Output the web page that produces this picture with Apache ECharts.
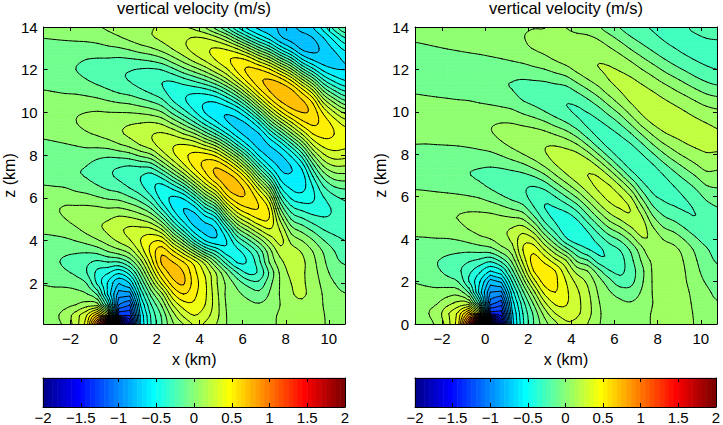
<!DOCTYPE html>
<html><head><meta charset="utf-8">
<script src="https://cdn.jsdelivr.net/npm/echarts@6/dist/echarts.min.js"></script>
<style>html,body{margin:0;padding:0;background:#fff}#c{width:723px;height:425px}</style>
</head><body><div id="c"></div>
<script>
// grid node positions (km)
const xs = [-3.25,-2.75,-2.25,-1.75,-1.25,-0.75,-0.25,0.25,0.75,1.25,1.75,2.25,2.75,3.25,3.75,4.25,4.75,5.25,5.75,6.25,6.75,7.25,7.75,8.25,8.75,9.25,9.75,10.25,10.75];
const zs = [0,0.5,1,1.5,2,2.5,3,3.5,4,4.5,5,5.5,6,6.5,7,7.5,8,8.5,9,9.5,10,10.5,11,11.5,12,12.5,13,13.5,14];
// vertical velocity (m/s), one column per x node, values from z=0 to z=14
const wLeft = [
[0.05,0.06,0.04,0.02,-0.005,-0.05,-0.07,-0.06,-0.03,0.02,0.06,0.07,0.05,0.01,-0.04,-0.06,-0.05,-0.02,0.02,0.05,0.06,0.04,0.004,-0.035,-0.06,-0.06,-0.03,0.002,0.03],
[0.07,0.08,0.05,0.025,-0.015,-0.067,-0.09,-0.075,-0.028,0.031,0.076,0.09,0.061,0.005,-0.048,-0.07,-0.055,-0.014,0.032,0.064,0.067,0.041,-0.003,-0.045,-0.069,-0.064,-0.034,0.007,0.043],
[0.12,0.14,0.07,0.03,-0.02,-0.087,-0.11,-0.083,-0.02,0.05,0.098,0.108,0.066,-0.002,-0.062,-0.08,-0.054,-0.005,0.047,0.077,0.074,0.039,-0.012,-0.061,-0.084,-0.075,-0.037,0.013,0.055],
[0.25,0.25,0.1,0.03,-0.04,-0.12,-0.135,-0.086,0.003,0.081,0.127,0.115,0.051,-0.03,-0.088,-0.09,-0.052,0.008,0.067,0.098,0.09,0.044,-0.018,-0.074,-0.1,-0.085,-0.038,0.018,0.064],
[0.45,0.4,0.15,0.005,-0.1,-0.197,-0.176,-0.085,0.036,0.128,0.16,0.122,0.038,-0.05,-0.105,-0.1,-0.05,0.023,0.09,0.12,0.1,0.041,-0.034,-0.096,-0.12,-0.099,-0.042,0.025,0.075],
[1.2,0.7,0.15,-0.12,-0.32,-0.326,-0.22,-0.064,0.087,0.177,0.182,0.119,0.013,-0.085,-0.143,-0.138,-0.069,0.03,0.112,0.14,0.107,0.031,-0.056,-0.123,-0.14,-0.105,-0.037,0.04,0.093],
[2.6,0.4,-0.3,-0.53,-0.516,-0.388,-0.2,0.005,0.15,0.218,0.194,0.105,-0.014,-0.124,-0.184,-0.173,-0.078,0.048,0.143,0.155,0.102,0.01,-0.086,-0.15,-0.155,-0.107,-0.02,0.064,0.114],
[-2.6,-1.3,-1.0,-0.85,-0.7,-0.48,-0.2,0.06,0.22,0.28,0.23,0.11,-0.03,-0.15,-0.215,-0.19,-0.064,0.092,0.184,0.173,0.1,-0.01,-0.118,-0.18,-0.181,-0.114,-0.008,0.09,0.139],
[-1.6,-1.3,-1.1,-0.85,-0.6,-0.35,-0.08,0.14,0.29,0.32,0.224,0.076,-0.083,-0.207,-0.26,-0.2,-0.039,0.138,0.22,0.19,0.097,-0.025,-0.141,-0.204,-0.194,-0.106,0.019,0.125,0.16],
[-0.6,-0.58,-0.5,-0.38,-0.22,-0.04,0.15,0.33,0.4,0.334,0.19,0.015,-0.156,-0.27,-0.297,-0.185,0.024,0.207,0.258,0.2,0.085,-0.06,-0.18,-0.238,-0.208,-0.091,0.058,0.162,0.178],
[-0.3,-0.28,-0.2,-0.06,0.12,0.3,0.45,0.53,0.477,0.33,0.12,-0.098,-0.275,-0.37,-0.347,-0.16,0.082,0.266,0.293,0.209,0.06,-0.1,-0.224,-0.27,-0.214,-0.068,0.092,0.19,0.195],
[-0.1,-0.08,0.02,0.18,0.42,0.6,0.72,0.665,0.484,0.213,-0.07,-0.31,-0.44,-0.437,-0.266,-0.005,0.237,0.35,0.311,0.181,0.006,-0.163,-0.277,-0.294,-0.196,-0.022,0.144,0.22,0.21],
[0.08,0.15,0.3,0.48,0.65,0.74,0.701,0.52,0.232,-0.076,-0.343,-0.504,-0.515,-0.36,-0.093,0.186,0.372,0.39,0.28,0.085,-0.125,-0.29,-0.35,-0.29,-0.128,0.064,0.208,0.25,0.23],
[0.18,0.32,0.45,0.6,0.71,0.7,0.6,0.33,-0.01,-0.33,-0.54,-0.6,-0.482,-0.215,0.111,0.368,0.47,0.401,0.2,-0.033,-0.25,-0.378,-0.368,-0.24,-0.036,0.154,0.274,0.28,0.207],
[0.3,0.4,0.48,0.52,0.55,0.53,0.45,0.1,-0.3,-0.55,-0.64,-0.547,-0.295,0.038,0.348,0.526,0.529,0.37,0.11,-0.175,-0.38,-0.45,-0.371,-0.181,0.048,0.245,0.337,0.305,0.172],
[0.28,0.34,0.4,0.42,0.42,0.38,0.25,-0.15,-0.5,-0.63,-0.56,-0.334,-0.019,0.302,0.542,0.63,0.538,0.274,-0.043,-0.336,-0.504,-0.494,-0.349,-0.106,0.142,0.326,0.38,0.292,0.094],
[0.2,0.24,0.25,0.24,0.22,0.2,-0.01,-0.3,-0.57,-0.6,-0.45,-0.15,0.2,0.5,0.7,0.684,0.475,0.152,-0.209,-0.467,-0.57,-0.493,-0.28,0.005,0.26,0.41,0.406,0.228,-0.044],
[0.1,0.1,0.09,0.08,0.08,-0.01,-0.25,-0.45,-0.5,-0.37,-0.075,0.242,0.534,0.712,0.74,0.59,0.288,-0.066,-0.392,-0.583,-0.588,-0.41,-0.142,0.16,0.38,0.48,0.378,0.108,-0.2],
[0.06,0.05,0.04,0.02,-0.04,-0.2,-0.41,-0.426,-0.287,-0.051,0.228,0.49,0.676,0.74,0.647,0.384,0.041,-0.315,-0.555,-0.63,-0.524,-0.264,0.054,0.355,0.526,0.518,0.286,-0.077,-0.396],
[0.045,0.035,0.02,-0.03,-0.14,-0.32,-0.386,-0.322,-0.13,0.122,0.384,0.588,0.677,0.623,0.408,0.086,-0.244,-0.515,-0.637,-0.58,-0.35,-0.029,0.305,0.544,0.62,0.468,0.126,-0.264,-0.539],
[0.05,0.037,0.01,-0.07,-0.17,-0.28,-0.232,-0.161,0.038,0.284,0.496,0.597,0.548,0.35,0.056,-0.256,-0.513,-0.643,-0.605,-0.397,-0.078,0.268,0.547,0.677,0.606,0.321,-0.065,-0.424,-0.631],
[0.078,0.07,0.039,0.01,-0.03,-0.08,0.01,0.06,0.215,0.385,0.49,0.473,0.308,0.042,-0.257,-0.5,-0.623,-0.589,-0.399,-0.1,0.227,0.526,0.7,0.712,0.518,0.166,-0.229,-0.546,-0.68],
[0.114,0.116,0.102,0.11,0.11,0.12,0.17,0.25,0.33,0.289,0.172,-0.001,-0.198,-0.39,-0.539,-0.62,-0.61,-0.455,-0.175,0.154,0.469,0.693,0.77,0.657,0.345,-0.057,-0.437,-0.683,-0.71],
[0.146,0.155,0.165,0.19,0.2,0.223,0.25,0.242,0.17,0.054,-0.101,-0.256,-0.411,-0.518,-0.586,-0.597,-0.479,-0.237,0.071,0.373,0.633,0.757,0.731,0.498,0.136,-0.257,-0.589,-0.737,-0.72],
[0.16,0.17,0.185,0.21,0.21,0.214,0.221,0.19,0.1,-0.03,-0.18,-0.327,-0.454,-0.531,-0.55,-0.458,-0.256,0.013,0.308,0.551,0.7,0.721,0.56,0.245,-0.148,-0.5,-0.72,-0.74,-0.66],
[0.146,0.151,0.154,0.17,0.16,0.144,0.131,0.099,0.01,-0.117,-0.249,-0.357,-0.416,-0.403,-0.305,-0.143,0.075,0.305,0.499,0.621,0.67,0.582,0.334,-0.009,-0.359,-0.618,-0.73,-0.7,-0.6],
[0.107,0.105,0.097,0.09,0.07,0.045,0.02,-0.01,-0.094,-0.197,-0.286,-0.33,-0.307,-0.214,-0.072,0.106,0.28,0.435,0.533,0.56,0.478,0.275,0.002,-0.283,-0.525,-0.663,-0.67,-0.6,-0.45],
[0.066,0.059,0.042,0.026,0.003,-0.037,-0.074,-0.098,-0.16,-0.232,-0.28,-0.285,-0.227,-0.108,0.042,0.2,0.35,0.453,0.5,0.461,0.306,0.078,-0.184,-0.423,-0.59,-0.64,-0.58,-0.45,-0.25],
[0.05,0.04,0.02,0.003,-0.03,-0.07,-0.11,-0.15,-0.2,-0.24,-0.25,-0.24,-0.18,-0.08,0.06,0.2,0.34,0.43,0.45,0.36,0.18,-0.07,-0.3,-0.5,-0.6,-0.58,-0.47,-0.3,-0.102]
];
const wRight = [
[0.05,0.06,0.05,0.02,-0.005,-0.06,-0.07,-0.049,-0.01,0.033,0.057,0.055,0.026,-0.012,-0.043,-0.049,-0.031,0.002,0.032,0.049,0.045,0.022,-0.01,-0.038,-0.05,-0.042,-0.017,0.013,0.035],
[0.07,0.09,0.074,0.026,-0.02,-0.076,-0.083,-0.057,-0.009,0.041,0.068,0.063,0.027,-0.019,-0.054,-0.058,-0.036,0.001,0.036,0.055,0.048,0.02,-0.017,-0.045,-0.055,-0.041,-0.012,0.021,0.043],
[0.12,0.14,0.09,0.03,-0.04,-0.088,-0.096,-0.06,-0.005,0.051,0.079,0.069,0.025,-0.029,-0.066,-0.066,-0.039,0.004,0.042,0.06,0.049,0.016,-0.024,-0.054,-0.059,-0.04,-0.005,0.03,0.049],
[0.25,0.28,0.16,0.05,-0.06,-0.125,-0.119,-0.07,-0.004,0.059,0.089,0.075,0.022,-0.039,-0.077,-0.074,-0.041,0.007,0.049,0.065,0.05,0.012,-0.031,-0.061,-0.062,-0.037,0.003,0.037,0.055],
[0.45,0.42,0.22,0.05,-0.102,-0.179,-0.146,-0.075,0.008,0.073,0.102,0.077,0.016,-0.05,-0.088,-0.081,-0.04,0.011,0.054,0.07,0.05,0.007,-0.04,-0.067,-0.064,-0.033,0.011,0.047,0.06],
[1.2,0.75,0.2,-0.12,-0.3,-0.269,-0.185,-0.073,0.033,0.105,0.118,0.078,0.006,-0.065,-0.098,-0.087,-0.039,0.021,0.067,0.079,0.051,0.003,-0.049,-0.074,-0.065,-0.027,0.02,0.057,0.064],
[2.6,0.4,-0.3,-0.55,-0.495,-0.377,-0.219,-0.06,0.071,0.133,0.128,0.07,-0.011,-0.083,-0.11,-0.088,-0.03,0.036,0.082,0.086,0.049,-0.01,-0.063,-0.085,-0.067,-0.022,0.03,0.065,0.068],
[-2.6,-1.35,-1.05,-0.9,-0.75,-0.5,-0.27,-0.04,0.098,0.16,0.131,0.051,-0.046,-0.114,-0.128,-0.089,-0.018,0.053,0.095,0.091,0.045,-0.022,-0.075,-0.09,-0.063,-0.012,0.041,0.073,0.074],
[-1.6,-1.35,-1.15,-0.92,-0.68,-0.42,-0.16,0.05,0.16,0.18,0.119,0.018,-0.087,-0.145,-0.138,-0.076,0.012,0.088,0.12,0.098,0.035,-0.037,-0.088,-0.094,-0.059,-0.001,0.053,0.08,0.078],
[-0.65,-0.62,-0.55,-0.45,-0.3,-0.13,0.03,0.15,0.22,0.204,0.106,-0.022,-0.13,-0.17,-0.137,-0.049,0.053,0.125,0.137,0.095,0.02,-0.056,-0.098,-0.097,-0.052,0.014,0.07,0.09,0.085],
[-0.32,-0.3,-0.24,-0.12,0.04,0.2,0.33,0.4,0.357,0.239,0.081,-0.068,-0.169,-0.186,-0.124,-0.015,0.098,0.157,0.143,0.075,-0.017,-0.097,-0.125,-0.103,-0.042,0.03,0.084,0.098,0.094],
[-0.1,-0.08,0.02,0.17,0.35,0.5,0.54,0.462,0.314,0.119,-0.068,-0.193,-0.24,-0.198,-0.089,0.044,0.146,0.18,0.14,0.05,-0.052,-0.124,-0.137,-0.098,-0.022,0.055,0.104,0.11,0.098],
[0.06,0.14,0.28,0.43,0.54,0.57,0.466,0.296,0.094,-0.104,-0.239,-0.3,-0.267,-0.16,-0.018,0.118,0.19,0.19,0.121,0.013,-0.095,-0.154,-0.149,-0.09,-0.002,0.079,0.119,0.115,0.098],
[0.17,0.3,0.42,0.5,0.52,0.5,0.33,0.12,-0.098,-0.25,-0.32,-0.3,-0.201,-0.058,0.09,0.196,0.23,0.185,0.082,-0.043,-0.143,-0.18,-0.149,-0.068,0.031,0.11,0.135,0.13,0.11],
[0.28,0.36,0.41,0.42,0.4,0.33,0.2,-0.05,-0.28,-0.36,-0.35,-0.249,-0.101,0.052,0.184,0.25,0.238,0.155,0.032,-0.098,-0.182,-0.197,-0.142,-0.042,0.066,0.14,0.148,0.13,0.098],
[0.27,0.32,0.33,0.32,0.27,0.16,-0.02,-0.2,-0.36,-0.37,-0.284,-0.149,0.013,0.161,0.257,0.278,0.219,0.094,-0.051,-0.166,-0.21,-0.177,-0.086,0.026,0.122,0.168,0.161,0.124,0.07],
[0.2,0.24,0.24,0.22,0.18,0.098,-0.098,-0.29,-0.341,-0.272,-0.142,0.001,0.15,0.255,0.3,0.263,0.139,-0.022,-0.158,-0.22,-0.197,-0.122,-0.015,0.092,0.167,0.19,0.17,0.118,0.05],
[0.11,0.12,0.11,0.09,0.05,-0.06,-0.25,-0.32,-0.256,-0.138,0.006,0.15,0.262,0.317,0.293,0.171,0.002,-0.153,-0.228,-0.213,-0.148,-0.047,0.06,0.148,0.197,0.193,0.154,0.086,0.009],
[0.06,0.055,0.04,0.01,-0.06,-0.19,-0.29,-0.254,-0.154,-0.011,0.138,0.259,0.324,0.309,0.193,0.022,-0.143,-0.236,-0.227,-0.166,-0.064,0.044,0.143,0.2,0.207,0.174,0.109,0.03,-0.051],
[0.04,0.035,0.015,-0.04,-0.16,-0.22,-0.24,-0.197,-0.08,0.074,0.219,0.307,0.309,0.206,0.035,-0.136,-0.239,-0.241,-0.184,-0.086,0.027,0.135,0.201,0.22,0.193,0.134,0.056,-0.03,-0.104],
[0.045,0.035,0.005,-0.06,-0.13,-0.15,-0.13,-0.084,0.038,0.18,0.279,0.293,0.202,0.04,-0.137,-0.243,-0.254,-0.2,-0.099,0.022,0.133,0.21,0.235,0.213,0.158,0.08,-0.009,-0.092,-0.156],
[0.075,0.07,0.04,0.01,-0.02,-0.03,0.01,0.06,0.18,0.25,0.22,0.119,-0.018,-0.149,-0.237,-0.252,-0.205,-0.109,0.015,0.136,0.215,0.245,0.227,0.178,0.103,0.018,-0.067,-0.138,-0.187],
[0.105,0.105,0.098,0.101,0.103,0.106,0.12,0.195,0.184,0.121,0.029,-0.079,-0.174,-0.234,-0.249,-0.209,-0.117,0.003,0.118,0.21,0.249,0.239,0.198,0.13,0.048,-0.04,-0.118,-0.178,-0.207],
[0.125,0.13,0.13,0.145,0.16,0.165,0.175,0.155,0.097,0.013,-0.079,-0.161,-0.217,-0.235,-0.205,-0.126,-0.017,0.095,0.189,0.243,0.246,0.214,0.156,0.076,-0.011,-0.095,-0.164,-0.208,-0.22],
[0.13,0.135,0.14,0.15,0.155,0.15,0.15,0.127,0.059,-0.031,-0.124,-0.194,-0.22,-0.2,-0.136,-0.043,0.064,0.152,0.222,0.245,0.229,0.182,0.11,0.027,-0.064,-0.14,-0.197,-0.229,-0.225],
[0.12,0.125,0.125,0.12,0.11,0.103,0.09,0.064,-0.008,-0.096,-0.172,-0.208,-0.197,-0.147,-0.064,0.029,0.123,0.195,0.236,0.236,0.204,0.145,0.064,-0.024,-0.109,-0.178,-0.223,-0.235,-0.22],
[0.095,0.09,0.08,0.07,0.05,0.03,0.01,-0.017,-0.083,-0.156,-0.198,-0.191,-0.151,-0.081,0.004,0.091,0.165,0.218,0.235,0.219,0.172,0.102,0.016,-0.074,-0.15,-0.207,-0.238,-0.227,-0.155],
[0.055,0.05,0.03,0.02,-0.01,-0.04,-0.06,-0.086,-0.143,-0.179,-0.171,-0.136,-0.078,-0.006,0.07,0.14,0.193,0.226,0.227,0.198,0.141,0.061,-0.027,-0.113,-0.181,-0.226,-0.24,-0.196,-0.097],
[0.03,0.02,0.005,-0.02,-0.05,-0.08,-0.11,-0.14,-0.16,-0.16,-0.14,-0.102,-0.05,0.01,0.07,0.13,0.19,0.22,0.21,0.18,0.12,0.04,-0.05,-0.14,-0.2,-0.235,-0.23,-0.19,-0.12]
];
const xTicks = [-2,0,2,4,6,8,10];
const zTicksLeft = [2,4,6,8,10,12,14];
const zTicksRight = [0,2,4,6,8,10,12,14];
const cbTicks = [-2,-1.5,-1,-0.5,0,0.5,1,1.5,2];
const CLIM = [-2, 2];
const STEP = 0.1;          // contour interval
const NCOL = 64;           // jet colormap size
const SUB = 3;             // drawing subdivisions per grid cell
const titleText = 'vertical velocity (m/s)';

const FONT = "'Liberation Sans', Arial, Helvetica, sans-serif";
function jet(i){
  const r = i<=24?0: i<=40?(i-24)/16: i<=56?1: 1-(i-56)/16;
  const g = i<=8?0: i<=24?(i-8)/16: i<=40?1: i<=56?1-(i-40)/16: 0;
  const b = i<=8?(i+8)/16: i<=24?1: i<=40?1-(i-24)/16: 0;
  return 'rgb(' + Math.round(r*255) + ',' + Math.round(g*255) + ',' + Math.round(b*255) + ')';
}
function bandColor(k){
  const v = k*STEP;
  let idx = Math.floor((v-CLIM[0])/(CLIM[1]-CLIM[0])*NCOL + 1e-9) + 1;
  idx = Math.max(1, Math.min(NCOL, idx));
  return jet(idx);
}
function band(v){ return Math.floor(v/STEP + 1e-9); }
function fmt(v){ return (v<0?'\u2212':'') + Math.abs(v); }

function cells(){
  const out = [];
  for (let i=0;i<xs.length-1;i++) for (let j=0;j<zs.length-1;j++)
    out.push([xs[i], zs[j], xs[i+1], zs[j+1], i, j]);
  return out;
}
function cr(p0,p1,p2,p3,t){
  const t2=t*t, t3=t2*t;
  return 0.5*((2*p1)+(-p0+p2)*t+(2*p0-5*p1+4*p2-p3)*t2+(-p0+3*p1-3*p2+p3)*t3);
}
// smooth drawing of the cell between the read grid values
function subGrid(w, i, j, api){
  const nx=xs.length, nz=zs.length;
  const g=(a,b)=>w[Math.max(0,Math.min(nx-1,a))][Math.max(0,Math.min(nz-1,b))];
  let big=false;
  for (let a=-1;a<=2;a++) for (let b=-1;b<=2;b++) if (Math.abs(g(i+a,j+b))>0.9) big=true;
  const V=[], P=[];
  for (let a=0;a<=SUB;a++){
    V.push([]); P.push([]);
    const s=a/SUB;
    for (let b=0;b<=SUB;b++){
      const t=b/SUB; let v;
      if (big){
        v=(1-s)*(1-t)*g(i,j)+s*(1-t)*g(i+1,j)+s*t*g(i+1,j+1)+(1-s)*t*g(i,j+1);
      } else {
        const col=[];
        for (let bb=-1;bb<=2;bb++) col.push(cr(g(i-1,j+bb),g(i,j+bb),g(i+1,j+bb),g(i+2,j+bb),s));
        v=cr(col[0],col[1],col[2],col[3],t);
      }
      V[a].push(v);
      P[a].push(api.coord([xs[i]+(xs[i+1]-xs[i])*s, zs[j]+(zs[j+1]-zs[j])*t]));
    }
  }
  return {V,P};
}
function clipPoly(poly, lvl, above){
  const out=[];
  for (let i=0;i<poly.length;i++){
    const P=poly[i], Q=poly[(i+1)%poly.length];
    const pin = above ? P[2]>=lvl : P[2]<=lvl;
    const qin = above ? Q[2]>=lvl : Q[2]<=lvl;
    if (pin) out.push(P);
    if (pin!==qin){ const t=(lvl-P[2])/(Q[2]-P[2]); out.push([P[0]+t*(Q[0]-P[0]), P[1]+t*(Q[1]-P[1]), lvl]); }
  }
  return out;
}
function poly(points, col){
  return {type:'polygon', silent:true, shape:{points}, style:{fill:col, stroke:col, lineWidth:0.6}};
}
function fillTri(t, children){
  const vmin=Math.min(t[0][2],t[1][2],t[2][2]), vmax=Math.max(t[0][2],t[1][2],t[2][2]);
  const k0=band(vmin); let k1=Math.floor(vmax/STEP-1e-9); if (k1<k0) k1=k0;
  for (let k=k0;k<=k1;k++){
    let p = clipPoly(t, k*STEP, true); if (p.length<3) continue;
    p = clipPoly(p, (k+1)*STEP, false); if (p.length<3) continue;
    children.push(poly(p.map(q=>[q[0],q[1]]), bandColor(k)));
  }
}
function makeFill(w){
  return function(params, api){
    const {V,P} = subGrid(w, api.value(4), api.value(5), api);
    const children=[];
    for (let b=0;b<SUB;b++){
      let run=-1, runBand=null;
      const flush=(aEnd)=>{
        if (run<0) return;
        children.push(poly([P[run][b],P[aEnd][b],P[aEnd][b+1],P[run][b+1]], bandColor(runBand)));
        run=-1;
      };
      for (let a=0;a<SUB;a++){
        const q=[V[a][b],V[a+1][b],V[a+1][b+1],V[a][b+1]];
        const bs=q.map(band);
        const uni = bs[0]===bs[1] && bs[0]===bs[2] && bs[0]===bs[3];
        if (uni){
          if (run>=0 && runBand===bs[0]) continue;
          flush(a); run=a; runBand=bs[0];
        } else {
          flush(a);
          const A=[P[a][b][0],P[a][b][1],q[0]], B=[P[a+1][b][0],P[a+1][b][1],q[1]],
                C=[P[a+1][b+1][0],P[a+1][b+1][1],q[2]], D=[P[a][b+1][0],P[a][b+1][1],q[3]];
          fillTri([A,B,D], children); fillTri([B,C,D], children);
        }
      }
      flush(SUB);
    }
    return {type:'group', children};
  };
}
function chain(segs){
  const key=(x,y)=>Math.round(x*50)+','+Math.round(y*50);
  const map=new Map();
  segs.forEach((s,i)=>{
    [key(s[0],s[1]), key(s[2],s[3])].forEach(k=>{ if(!map.has(k)) map.set(k,[]); map.get(k).push(i); });
  });
  const used=new Array(segs.length).fill(false), lines=[];
  for (let i=0;i<segs.length;i++){
    if (used[i]) continue; used[i]=true;
    const pts=[[segs[i][0],segs[i][1]],[segs[i][2],segs[i][3]]];
    for (const atEnd of [true,false]){
      for(;;){
        const e = atEnd ? pts[pts.length-1] : pts[0];
        const k = key(e[0],e[1]);
        const c = (map.get(k)||[]).find(j=>!used[j]);
        if (c===undefined) break;
        used[c]=true;
        const s=segs[c];
        const nxt = key(s[0],s[1])===k ? [s[2],s[3]] : [s[0],s[1]];
        if (atEnd) pts.push(nxt); else pts.unshift(nxt);
      }
    }
    lines.push(pts);
  }
  return lines;
}
function makeLines(w){
  return function(params, api){
    const {V,P} = subGrid(w, api.value(4), api.value(5), api);
    const byLevel=new Map();
    const triSegs=(t)=>{
      const vmin=Math.min(t[0][2],t[1][2],t[2][2]), vmax=Math.max(t[0][2],t[1][2],t[2][2]);
      const k0=Math.ceil(vmin/STEP-1e-9), k1=Math.floor(vmax/STEP+1e-9);
      for (let k=k0;k<=k1;k++){
        const L=k*STEP, pts=[];
        for (let e=0;e<3;e++){
          const A=t[e], B=t[(e+1)%3];
          const pa=A[2]>=L-1e-12, qa=B[2]>=L-1e-12;
          if (pa!==qa){
            const P1 = A[0]<B[0]||(A[0]===B[0]&&A[1]<B[1]) ? A : B, P2 = P1===A ? B : A;
            const s=(L-P1[2])/(P2[2]-P1[2]);
            pts.push(P1[0]+s*(P2[0]-P1[0]), P1[1]+s*(P2[1]-P1[1]));
          }
        }
        if (pts.length===4){ if(!byLevel.has(k)) byLevel.set(k,[]); byLevel.get(k).push(pts); }
      }
    };
    for (let a=0;a<SUB;a++) for (let b=0;b<SUB;b++){
      const A=[P[a][b][0],P[a][b][1],V[a][b]], B=[P[a+1][b][0],P[a+1][b][1],V[a+1][b]],
            C=[P[a+1][b+1][0],P[a+1][b+1][1],V[a+1][b+1]], D=[P[a][b+1][0],P[a][b+1][1],V[a][b+1]];
      triSegs([A,B,D]); triSegs([B,C,D]);
    }
    const children=[];
    byLevel.forEach(segs=>{
      chain(segs).forEach(pts=>children.push({type:'polyline', silent:true, shape:{points:pts}, style:{stroke:'#000', lineWidth:1, fill:null, lineCap:'round', lineJoin:'round'}}));
    });
    return {type:'group', children};
  };
}
function renderBar(params, api){
  const lo=api.value(0), hi=api.value(1), idx=api.value(2);
  const p0=api.coord([lo,0]), p1=api.coord([hi,1]);
  const c=jet(idx);
  return {type:'rect', silent:true, shape:{x:p0[0], y:p1[1], width:p1[0]-p0[0]+0.4, height:p0[1]-p1[1]}, style:{fill:c, stroke:c, lineWidth:0.3}};
}
const barData = [];
for (let i=1;i<=NCOL;i++) barData.push([CLIM[0]+(i-1)*(CLIM[1]-CLIM[0])/NCOL, CLIM[0]+i*(CLIM[1]-CLIM[0])/NCOL, i]);

const lineStyle = {color:'#000', width:1};
const labelStyle = {color:'#000', fontSize:15, fontFamily:FONT};
const nameStyle = {color:'#000', fontSize:16, fontFamily:FONT};
function xAx(grid, pos, labels, name){
  return {gridIndex:grid, type:'value', position:pos, min:-3.25, max:10.75, z:10,
    axisLine:{show:true,onZero:false,lineStyle}, splitLine:{show:false},
    axisTick:{show:true,inside:true,length:4,customValues:xTicks,lineStyle},
    axisLabel:{show:labels,customValues:xTicks,formatter:fmt,margin:7,...labelStyle},
    name:name, nameLocation:'middle', nameGap:27, nameTextStyle:nameStyle};
}
function yAx(grid, pos, labels, min, ticks, name){
  return {gridIndex:grid, type:'value', position:pos, min:min, max:14, z:10,
    axisLine:{show:true,onZero:false,lineStyle}, splitLine:{show:false},
    axisTick:{show:true,inside:true,length:4,customValues:ticks,lineStyle},
    axisLabel:{show:labels,customValues:ticks,formatter:fmt,margin:6,...labelStyle},
    name:name, nameLocation:'middle', nameRotate:90, nameGap:25, nameTextStyle:nameStyle};
}
function cbX(grid, pos, labels){
  return {gridIndex:grid, type:'value', position:pos, min:CLIM[0], max:CLIM[1], z:10,
    axisLine:{show:true,onZero:false,lineStyle}, splitLine:{show:false},
    axisTick:{show:true,inside:true,length:4,customValues:cbTicks,lineStyle},
    axisLabel:{show:labels,customValues:cbTicks,formatter:fmt,margin:3,...labelStyle}};
}
function cbY(grid, pos){
  return {gridIndex:grid, type:'value', position:pos, min:0, max:1, z:10,
    axisLine:{show:true,onZero:false,lineStyle}, splitLine:{show:false},
    axisTick:{show:false}, axisLabel:{show:false}};
}
function contour(w, xi, yi){
  const d = cells();
  return [
    {type:'custom', xAxisIndex:xi, yAxisIndex:yi, data:d, encode:{x:[0,2], y:[1,3]}, renderItem:makeFill(w), clip:true, silent:true, z:2, animation:false},
    {type:'custom', xAxisIndex:xi, yAxisIndex:yi, data:d, encode:{x:[0,2], y:[1,3]}, renderItem:makeLines(w), clip:true, silent:true, z:3, animation:false}
  ];
}
const chart = echarts.init(document.getElementById('c'), null, {renderer:'svg'});
const titleStyle = {fontSize:16.5, fontWeight:'normal', color:'#000', fontFamily:FONT};
chart.setOption({
  animation:false,
  backgroundColor:'#fff',
  textStyle:{fontFamily:FONT},
  title:[
    {text:titleText, left:194, top:-1, padding:0, textAlign:'center', textStyle:titleStyle},
    {text:titleText, left:566, top:-1, padding:0, textAlign:'center', textStyle:titleStyle}
  ],
  grid:[
    {left:43, top:27, width:302, height:297},
    {left:415, top:27, width:302, height:297},
    {left:43, top:378, width:302, height:31},
    {left:415, top:378, width:302, height:31}
  ],
  xAxis:[
    xAx(0,'bottom',true,'x (km)'), xAx(0,'top',false,''),
    xAx(1,'bottom',true,'x (km)'), xAx(1,'top',false,''),
    cbX(2,'bottom',true), cbX(2,'top',false),
    cbX(3,'bottom',true), cbX(3,'top',false)
  ],
  yAxis:[
    yAx(0,'left',true,0.1,zTicksLeft,'z (km)'), yAx(0,'right',false,0.1,zTicksLeft,''),
    yAx(1,'left',true,0,zTicksRight,'z (km)'), yAx(1,'right',false,0,zTicksRight,''),
    cbY(2,'left'), cbY(2,'right'), cbY(3,'left'), cbY(3,'right')
  ],
  series:[
    ...contour(wLeft,0,0),
    ...contour(wRight,2,2),
    {type:'custom', xAxisIndex:4, yAxisIndex:4, data:barData, encode:{x:[0,1]}, renderItem:renderBar, silent:true, animation:false},
    {type:'custom', xAxisIndex:6, yAxisIndex:6, data:barData, encode:{x:[0,1]}, renderItem:renderBar, silent:true, animation:false}
  ]
});
</script>
</body></html>
